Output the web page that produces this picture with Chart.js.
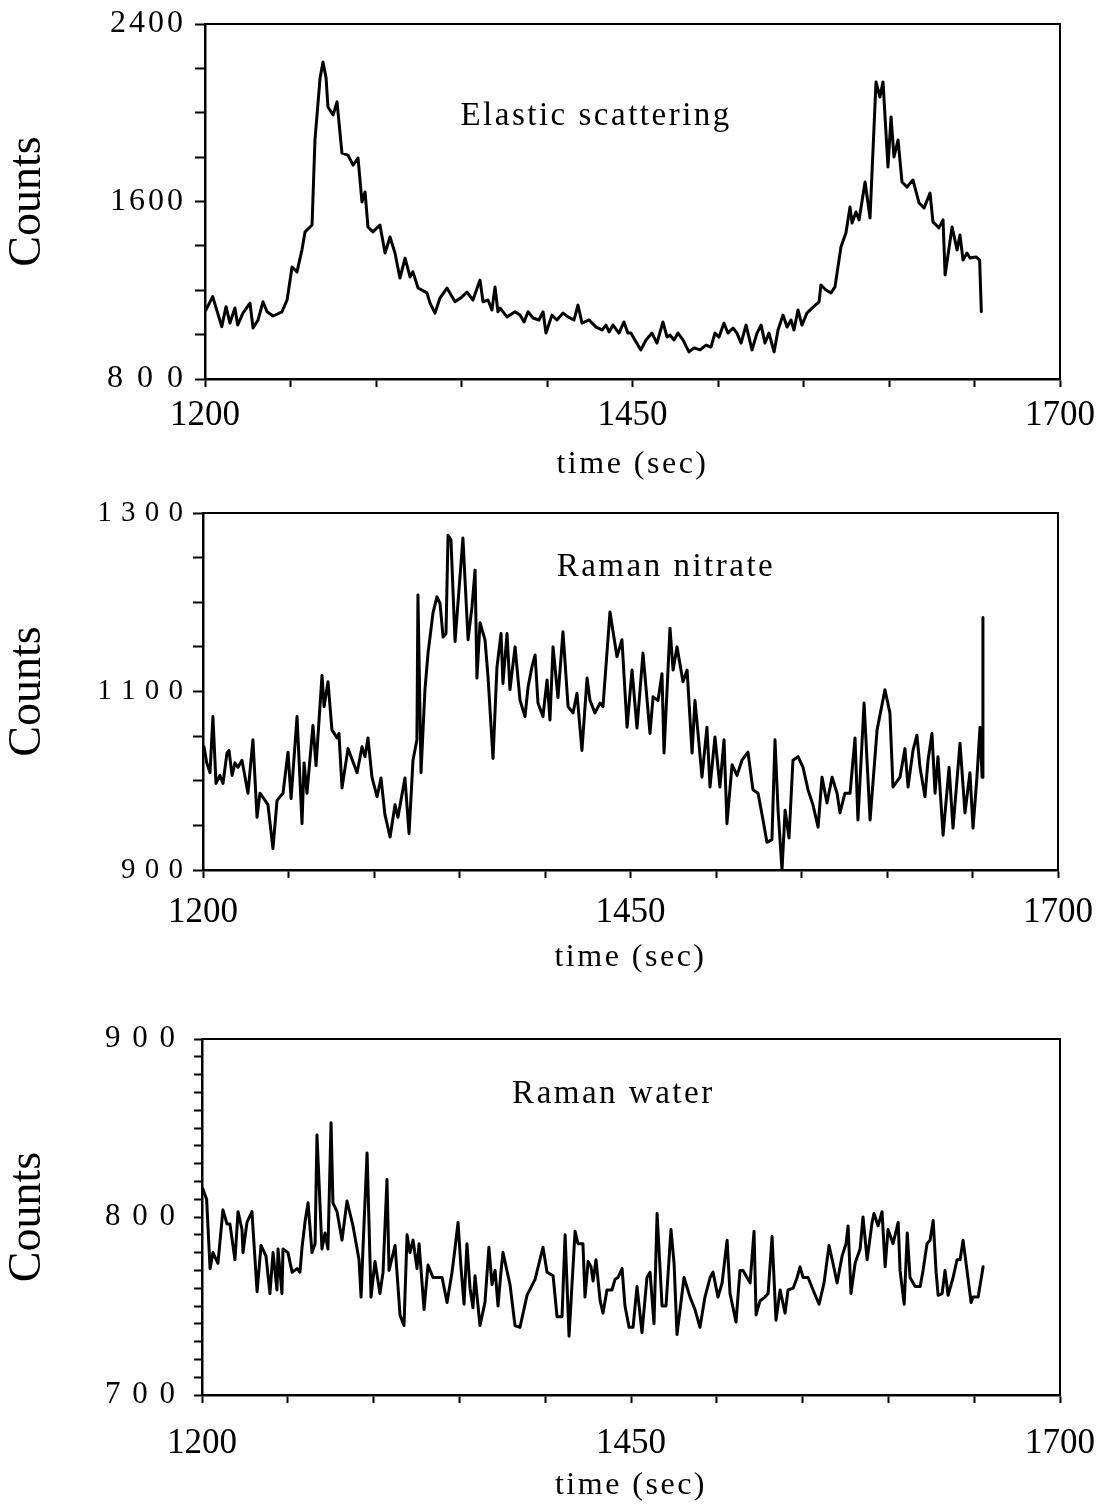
<!DOCTYPE html>
<html><head><meta charset="utf-8">
<script src="https://cdn.jsdelivr.net/npm/chart.js@4.4.1/dist/chart.umd.min.js"></script>
<style>
html,body{margin:0;padding:0;background:#fff;}
#wrap{position:relative;width:1099px;height:1504px;overflow:hidden;}
canvas{position:absolute;left:0;}
</style></head><body>
<div id="wrap">
<canvas id="c1" width="1099" height="490" style="top:0px"></canvas>
<canvas id="c2" width="1099" height="500" style="top:490px"></canvas>
<canvas id="c3" width="1099" height="514" style="top:990px"></canvas>
</div>
<script>
// ---------- data ----------
const timeTickValues = [1200, 1450, 1700];
const timeTickLabels = ['1200', '1450', '1700'];

const elasticTime = [1200.5,1204.5,1209.8,1212.3,1214.6,1217.5,1219.1,1222.2,1226.3,1228.1,
1231.0,1233.9,1236.3,1239.8,1245.0,1248.0,1250.9,1253.8,1256.7,1258.5,
1262.6,1264.3,1267.3,1269.0,1270.8,1271.9,1274.9,1277.2,1280.1,1283.6,
1286.6,1289.5,1291.8,1293.6,1295.3,1298.2,1302.3,1305.3,1308.2,1311.1,
1314.0,1317.0,1319.9,1321.6,1324.6,1329.8,1331.6,1334.5,1337.4,1341.5,
1346.2,1350.3,1353.2,1356.7,1360.8,1362.6,1365.5,1367.8,1369.6,1371.3,
1372.5,1376.6,1381.3,1384.2,1386.6,1388.9,1391.8,1395.3,1397.7,1399.4,
1402.9,1405.8,1409.4,1412.3,1415.8,1418.1,1420.5,1424.6,1428.7,1432.2,
1434.5,1436.3,1438.6,1442.1,1445.0,1447.3,1449.1,1451.4,1454.9,1457.9,
1461.4,1464.3,1467.8,1470.2,1471.9,1474.3,1476.6,1479.5,1483.0,1486.0,
1489.5,1493.0,1495.9,1498.2,1500.6,1503.5,1505.8,1508.8,1511.1,1513.5,
1516.4,1519.9,1522.8,1525.2,1527.5,1529.8,1532.8,1535.1,1538.0,1540.4,
1542.7,1544.4,1546.8,1549.1,1552.0,1555.6,1559.1,1560.2,1563.1,1566.1,
1568.4,1571.9,1574.8,1577.2,1578.4,1580.7,1582.5,1586.0,1588.9,1592.4,
1594.7,1596.5,1599.4,1601.2,1602.9,1605.3,1607.6,1610.5,1614.0,1617.6,
1620.5,1624.0,1625.7,1629.2,1631.6,1632.8,1636.9,1639.8,1641.5,1643.3,
1645.6,1647.4,1650.9,1653.0,1654.0];
const elasticCounts = [1111,1171,1036,1126,1052,1120,1043,1097,1142,1030,
1066,1148,1103,1084,1103,1156,1305,1283,1382,1463,
1494,1877,2157,2229,2157,2026,1990,2049,1818,1809,
1764,1796,1598,1643,1485,1463,1494,1368,1440,1368,
1255,1345,1260,1283,1210,1188,1142,1097,1165,1210,
1148,1170,1192,1156,1246,1148,1156,1111,1215,1103,
1120,1080,1103,1088,1057,1103,1075,1066,1103,1007,
1088,1066,1097,1080,1066,1133,1052,1066,1034,1021,
1043,1012,1043,1007,1057,1007,1007,976,931,976,
1007,962,1057,989,998,976,1007,976,922,940,
931,953,944,1007,989,1052,1007,1030,1007,962,
1043,931,1007,1043,962,1007,922,1021,1088,1034,
1066,1021,1111,1043,1097,1124,1148,1224,1201,1188,
1215,1395,1458,1575,1503,1553,1517,1688,1526,2139,
2071,2139,1756,1981,1801,1877,1688,1665,1697,1593,
1571,1638,1508,1481,1517,1269,1485,1382,1449,1336,
1368,1345,1350,1336,1103];

const nitrateTime = [1200.6,1202.2,1204.1,1205.8,1207.6,1209.9,1211.7,1214.0,1215.2,1217.0,
1218.7,1220.5,1222.8,1224.6,1226.3,1229.2,1231.6,1233.3,1236.3,1238.0,
1240.9,1243.3,1246.8,1249.7,1251.5,1255.0,1257.9,1259.1,1260.8,1264.3,
1266.1,1269.6,1270.8,1273.1,1275.4,1278.4,1279.5,1281.3,1284.8,1290.1,
1293.0,1294.7,1296.5,1298.8,1301.8,1304.1,1306.4,1309.4,1312.3,1314.0,
1318.1,1320.5,1322.8,1325.1,1325.7,1327.5,1329.8,1331.6,1334.5,1336.8,
1338.6,1340.4,1342.1,1343.3,1345.0,1347.4,1350.3,1352.0,1355.0,1357.3,
1359.1,1360.2,1362.0,1364.9,1366.7,1369.6,1371.9,1374.3,1375.4,1377.8,
1379.5,1382.5,1385.4,1388.3,1390.1,1392.4,1394.2,1395.9,1398.8,1401.2,
1402.9,1404.7,1407.6,1410.5,1413.5,1416.4,1418.7,1421.6,1424.6,1426.3,
1429.2,1432.2,
1433.9,1438.0,1442.1,1445.0,1448.0,1450.9,1453.8,1457.3,1461.4,1463.2,
1466.1,1468.4,1469.6,1473.1,1474.9,1477.2,1480.7,1483.1,1486.0,1487.7,
1489.5,1491.8,1494.7,1496.5,1499.4,1502.3,1504.7,1506.4,1509.4,1512.3,
1515.2,1518.7,1521.6,1524.6,1527.5,1529.8,1532.7,1534.5,1536.3,1538.6,
1540.4,1542.7,1545.0,1548.0,1550.9,1553.8,1556.7,1559.7,1562.0,1564.9,
1567.9,1570.8,1572.5,1575.4,1578.4,1581.3,1583.0,1586.6,1590.1,1594.2,
1598.8,1601.7,1603.5,1607.6,1610.5,1612.3,1615.2,1617.5,1619.3,1622.2,
1624.0,1626.3,1628.1,1629.8,1632.8,1636.3,1638.6,1642.7,1645.6,1648.5,
1650.3,1652.6,1654.4,1655.6,1656.1];
const nitrateCounts = [1038,1020,1009,1072,997,1006,997,1031,1034,1006,
1020,1015,1023,1004,986,1046,959,986,978,973,
924,978,986,1032,980,1072,952,1020,986,1062,
1017,1118,1083,1111,1057,1048,1053,992,1036,1009,
1038,1027,1048,1004,982,1003,962,937,973,959,
1003,941,1023,1046,1208,1009,1102,1143,1188,1206,
1199,1161,1165,1275,1270,1156,1229,1272,1158,1195,
1236,1115,1177,1158,1116,1025,1127,1165,1109,1165,
1102,1150,1090,1072,1105,1128,1141,1087,1072,1113,
1068,1150,1093,1167,1083,1076,1098,1034,1115,1090,
1076,1087,
1083,1189,1139,1158,1060,1124,1059,1143,1053,1094,
1090,1120,1031,1171,1124,1150,1111,1124,1031,1090,
1053,1004,1060,993,1049,993,1046,952,1018,1006,
1023,1032,990,986,956,931,934,1046,967,900,
967,936,1023,1027,1015,990,973,948,1004,975,
1004,986,964,986,986,1048,956,1087,956,1057,
1102,1076,993,1004,1036,993,1034,1051,1015,982,
1023,1053,986,1027,939,1015,947,1042,964,1009,
947,1004,1060,1004,1183];

const waterTime = [1200.4,1202.7,1204.7,1206.4,1209.3,1212.2,1214.6,1216.3,1219.2,1221.0,
1223.3,1223.9,1226.2,1229.1,1232.1,1234.4,1237.3,1239.6,1241.4,1243.7,
1244.3,1246.6,1247.2,1250.1,1252.5,1255.4,1257.1,1258.3,1260.0,1261.8,
1264.1,1265.9,1267.0,1269.9,1271.7,1273.4,1275.2,1276.3,1278.7,1281.6,
1284.5,1288.0,1291.5,1292.7,1293.8,1296.2,1298.5,1300.8,1303.7,1305.5,
1307.8,1309.0,1312.5,1315.4,1317.7,1319.5,1321.2,1323.0,1325.3,1326.5,
1329.4,1331.7,1334.6,1337.5,1339.9,1342.8,1345.7,1347.4,1349.2,1350.9,
1352.7,1354.4,1356.2,1357.9,1359.1,1362.0,1364.9,1367.2,1369.0,1370.8,
1372.5,1374.3,1375.4,1379.5,1382.4,1385.3,1389.4,1394.1,1398.7,1401.1,
1404.6,1406.9,1409.8,1411.6,1413.9,1417.4,1419.1,1422.0,1423.2,1425.0,
1426.7,1427.9,1429.6,
1432.0,1433.7,1436.0,1438.9,1440.7,1442.4,1444.8,1446.5,1448.9,1451.2,
1453.5,1456.4,1459.3,1461.1,1463.4,1465.2,1468.1,1470.4,1473.3,1475.1,
1476.8,1480.9,1484.4,1487.3,1490.2,1493.1,1496.1,1497.8,1500.7,1503.1,
1506.0,1507.7,1511.2,1513.5,1515.3,1517.6,1519.4,1521.7,1522.9,1525.2,
1528.1,1529.9,1532.2,1534.5,1536.9,1539.8,1541.5,1544.5,1546.8,1548.5,
1550.3,1553.2,1556.1,1559.6,1562.5,1565.4,1567.7,1570.1,1573.0,1575.3,
1576.5,1578.2,1580.6,1583.5,1585.2,1587.6,1590.5,1591.6,1594.0,1596.3,
1598.1,1599.8,1602.7,1605.7,1606.8,1609.2,1611.0,1612.6,1615.6,1618.5,
1620.2,1622.5,1624.3,1626.1,1627.8,1629.0,1631.3,1633.0,1634.8,1637.7,
1640.0,1641.8,1643.5,1645.8,1648.2,1649.3,1652.3,1655.2];
const waterCounts = [816,810,771,780,774,804,796,796,776,803,
793,780,797,803,758,784,778,757,780,759,
782,757,782,780,769,771,769,783,797,808,
780,785,846,782,791,782,853,808,803,787,
809,795,776,755,782,836,755,775,757,769,
821,770,784,745,739,790,780,787,771,785,
748,773,766,766,766,752,769,782,797,772,
751,785,760,749,767,739,752,783,762,770,
750,770,780,762,739,738,756,765,783,769,
767,744,744,790,733,792,785,785,755,775,
772,764,776,
753,746,759,759,765,766,771,750,738,738,
761,735,766,769,740,802,750,750,793,774,
734,766,755,748,738,755,766,769,755,763,
787,757,741,770,770,766,763,792,745,753,
755,757,789,742,759,746,759,760,766,772,
766,766,759,751,763,784,774,763,778,785,
795,757,774,782,800,776,797,802,795,803,
772,793,785,797,770,751,791,766,761,761,
770,785,787,798,769,756,757,770,756,766,
776,776,787,770,752,755,755,772];

const elasticYTickValues = [800, 1600, 2400];
const elasticYTickLabels = ['8 0 0', '1600', '2400'];
const nitrateYTickValues = [900, 1100, 1300];
const nitrateYTickLabels = ['9 0 0', '1 1 0 0', '1 3 0 0'];
const waterYTickValues = [700, 800, 900];
const waterYTickLabels = ['7 0 0', '8 0 0', '9 0 0'];

const panelTitles = ['Elastic scattering', 'Raman nitrate', 'Raman water'];

// ---------- rendering ----------
Chart.defaults.font.family = "'Liberation Serif','Times New Roman',serif";
Chart.defaults.color = '#000';

const textSpacing = {
  id: 'textSpacing',
  beforeDraw(chart, args, opts) {
    const wrap = (scale, method, sp) => {
      if (!scale || scale['_sp_' + method]) return;
      const orig = scale[method];
      scale[method] = function (...a) {
        const c = this.ctx; const prev = c.letterSpacing;
        c.letterSpacing = sp;
        try { return orig.apply(this, a); } finally { c.letterSpacing = prev; }
      };
      scale['_sp_' + method] = true;
    };
    wrap(chart.scales.y, 'drawLabels', opts.yTicks);
    wrap(chart.scales.x, 'drawTitle', opts.xTitle);
  }
};

const panelLabel = {
  id: 'panelLabel',
  afterDatasetsDraw(chart, args, o) {
    const ctx = chart.ctx, x = chart.scales.x, y = chart.scales.y;
    ctx.save();
    ctx.font = o.size + "px 'Liberation Serif','Times New Roman',serif";
    ctx.letterSpacing = o.spacing + 'px';
    ctx.fillStyle = '#000';
    ctx.textAlign = 'center';
    ctx.textBaseline = 'alphabetic';
    ctx.fillText(o.text, x.getPixelForValue(o.t) + o.spacing / 2, y.getPixelForValue(o.v));
    ctx.restore();
  }
};

function makePanel(id, d, g) {
  const yMap = new Map(d.yTickValues.map((v, i) => [v, d.yTickLabels[i]]));
  const xMap = new Map(timeTickValues.map((v, i) => [v, timeTickLabels[i]]));
  return new Chart(document.getElementById(id), {
    type: 'line',
    data: {
      datasets: [{
        data: d.time.map((t, i) => ({ x: t, y: d.counts[i] })),
        xAxisID: 'x', yAxisID: 'y',
        borderColor: '#000', borderWidth: 3, pointRadius: 0, tension: 0, fill: false,
        borderJoinStyle: 'round', borderCapStyle: 'round'
      }]
    },
    options: {
      responsive: false, animation: false, events: [],
      layout: { padding: { top: g.padTop, right: g.padRight, left: 0, bottom: 0 } },
      plugins: {
        legend: { display: false }, tooltip: { enabled: false },
        textSpacing: { yTicks: g.ySpacing + 'px', xTitle: '2.5px' },
        panelLabel: { text: d.title, t: d.labelT, v: d.labelV, size: 33, spacing: 2.5 }
      },
      scales: {
        x: {
          type: 'linear', position: 'bottom', min: 1200, max: 1700,
          afterFit: s => { s.height = g.xHeight; },
          ticks: { stepSize: 50, autoSkip: false, maxRotation: 0, minRotation: 0, padding: 0, color: '#000',
                   font: { size: 35, lineHeight: g.xLabelLH }, callback: v => xMap.get(v) ?? '' },
          grid: { drawOnChartArea: false, drawTicks: true, tickLength: 8, tickWidth: 2, tickColor: '#000' },
          border: { display: true, color: '#000', width: 2.5 },
          title: { display: true, text: 'time (sec)', color: '#000', font: { size: 32, lineHeight: 1 },
                   padding: { top: 0, bottom: g.xTitlePad } }
        },
        y: {
          type: 'linear', position: 'left', min: d.yMin, max: d.yMax,
          afterFit: s => { s.width = g.yWidth; },
          ticks: { stepSize: d.yStep, autoSkip: false, padding: g.yTickPad, color: '#000',
                   font: { size: g.yFont, lineHeight: 0.8 }, callback: v => yMap.get(v) ?? '' },
          grid: { drawOnChartArea: false, drawTicks: true, tickLength: g.yTickLen, tickWidth: 2, tickColor: '#000' },
          border: { display: true, color: '#000', width: 2.5 },
          title: { display: true, text: 'Counts', color: '#000', font: { size: 46, lineHeight: 1.2 }, padding: 0 }
        },
        x2: {
          type: 'linear', position: 'top', min: 1200, max: 1700,
          afterFit: s => { s.height = 0; },
          ticks: { display: false }, grid: { display: false },
          border: { display: true, color: '#000', width: 2 }
        },
        y2: {
          type: 'linear', position: 'right', min: d.yMin, max: d.yMax,
          afterFit: s => { s.width = 0; },
          ticks: { display: false }, grid: { display: false },
          border: { display: true, color: '#000', width: 2 }
        }
      }
    },
    plugins: [textSpacing, panelLabel]
  });
}

makePanel('c1', {
  time: elasticTime, counts: elasticCounts, yMin: 800, yMax: 2400, yStep: 200,
  yTickValues: elasticYTickValues, yTickLabels: elasticYTickLabels,
  title: panelTitles[0], labelT: 1428, labelV: 1945
}, { padTop: 24, padRight: 39, yWidth: 205, xHeight: 111, xLabelLH: 1.66, xTitlePad: 9,
     yTickPad: 9, yTickLen: 10, yFont: 32, ySpacing: 3 });

makePanel('c2', {
  time: nitrateTime, counts: nitrateCounts, yMin: 900, yMax: 1300, yStep: 50,
  yTickValues: nitrateYTickValues, yTickLabels: nitrateYTickLabels,
  title: panelTitles[1], labelT: 1470, labelV: 1229
}, { padTop: 23, padRight: 41, yWidth: 203, xHeight: 120, xLabelLH: 2.0, xTitlePad: 16,
     yTickPad: 9, yTickLen: 10, yFont: 29, ySpacing: 1 });

makePanel('c3', {
  time: waterTime, counts: waterCounts, yMin: 700, yMax: 900, yStep: 10,
  yTickValues: waterYTickValues, yTickLabels: waterYTickLabels,
  title: panelTitles[2], labelT: 1439, labelV: 864
}, { padTop: 49, padRight: 39, yWidth: 202, xHeight: 109, xLabelLH: 2.34, xTitlePad: 2,
     yTickPad: 17, yTickLen: 8, yFont: 31, ySpacing: 2 });
</script>
</body></html>
